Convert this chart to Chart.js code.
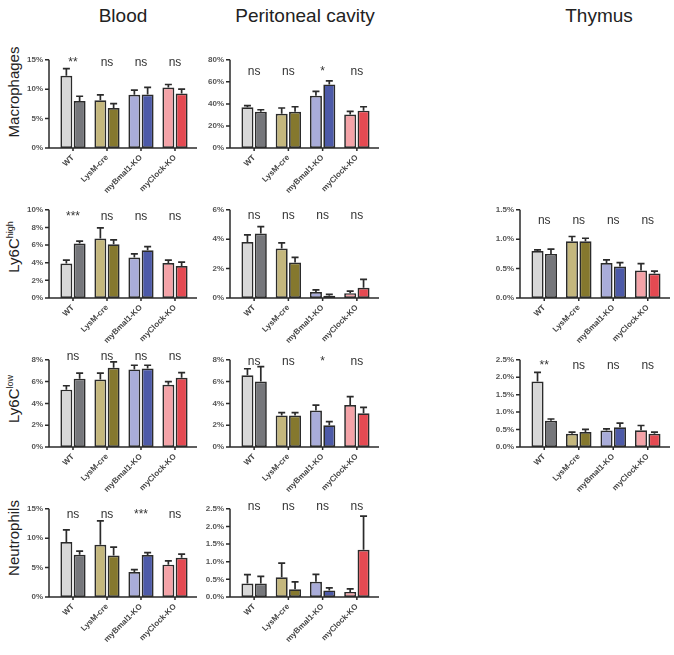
<!DOCTYPE html>
<html>
<head>
<meta charset="utf-8">
<script src="https://cdn.jsdelivr.net/npm/chart.js@4.4.0/dist/chart.umd.min.js"></script>
<style>
  body { margin: 0; background: #fff; }
  #page { position: relative; width: 674px; height: 655px; overflow: hidden; font-family: "Liberation Sans", Arial, sans-serif; color: #222; }
  #page canvas { position: absolute; }
  .col-title { position: absolute; font-size: 19px; white-space: nowrap; transform: translate(-50%, -50%); }
  .row-title { position: absolute; font-size: 15px; white-space: nowrap; transform: translate(-50%, -50%) rotate(-90deg); }
  .row-title sup { font-size: 9px; }
</style>
</head>
<body>
<div id="page">
  <div class="col-title" style="left:123px; top:16px;">Blood</div>
  <div class="col-title" style="left:305px; top:16px;">Peritoneal cavity</div>
  <div class="col-title" style="left:599px; top:16px;">Thymus</div>
  <div class="row-title" style="left:13px; top:92px;">Macrophages</div>
  <div class="row-title" style="left:13px; top:247px;">Ly6C<sup>high</sup></div>
  <div class="row-title" style="left:13px; top:399px;">Ly6C<sup>low</sup></div>
  <div class="row-title" style="left:13px; top:538px;">Neutrophils</div>
</div>
<script>
// --- data (first bar / second bar of each group, with SEM) ---
const groups = ['WT', 'LysM-cre', 'myBmal1-KO', 'myClock-KO'];

// Blood - macrophages
const bloodMacA = [12.3, 8.1, 9.05, 10.3];
const bloodMacB = [8.0, 6.8, 9.1, 9.25];
const bloodMacErrA = [1.2, 0.95, 0.8, 0.5];
const bloodMacErrB = [0.8, 0.75, 1.2, 0.75];
const bloodMacSig = ['**', 'ns', 'ns', 'ns'];
const bloodMacTicks = [0, 5, 10, 15];

// Peritoneal cavity - macrophages
const pcMacA = [36.9, 31.1, 47.3, 30.3];
const pcMacB = [32.8, 32.8, 57.7, 33.9];
const pcMacErrA = [1.6, 5.2, 4.1, 3.0];
const pcMacErrB = [1.9, 4.6, 3.2, 3.5];
const pcMacSig = ['ns', 'ns', '*', 'ns'];
const pcMacTicks = [0, 20, 40, 60, 80];

// Blood - Ly6C high
const bloodHiA = [3.9, 6.75, 4.6, 3.97];
const bloodHiB = [6.17, 6.1, 5.42, 3.63];
const bloodHiErrA = [0.4, 1.2, 0.4, 0.33];
const bloodHiErrB = [0.27, 0.5, 0.4, 0.44];
const bloodHiSig = ['***', 'ns', 'ns', 'ns'];
const bloodHiTicks = [0, 2, 4, 6, 8, 10];

// Peritoneal cavity - Ly6C high
const pcHiA = [3.81, 3.36, 0.41, 0.33];
const pcHiB = [4.39, 2.42, 0.16, 0.7];
const pcHiErrA = [0.49, 0.39, 0.14, 0.14];
const pcHiErrB = [0.47, 0.35, 0.09, 0.57];
const pcHiSig = ['ns', 'ns', 'ns', 'ns'];
const pcHiTicks = [0, 2, 4, 6];

// Thymus - Ly6C high
const thyHiA = [0.80, 0.966, 0.595, 0.468];
const thyHiB = [0.75, 0.966, 0.534, 0.417];
const thyHiErrA = [0.02, 0.08, 0.055, 0.117];
const thyHiErrB = [0.08, 0.05, 0.066, 0.04];
const thyHiSig = ['ns', 'ns', 'ns', 'ns'];
const thyHiTicks = [0, 0.5, 1.0, 1.5];

// Blood - Ly6C low
const bloodLoA = [5.26, 6.19, 7.12, 5.7];
const bloodLoB = [6.27, 7.26, 7.2, 6.36];
const bloodLoErrA = [0.36, 0.58, 0.38, 0.3];
const bloodLoErrB = [0.5, 0.55, 0.3, 0.46];
const bloodLoSig = ['ns', 'ns', 'ns', 'ns'];
const bloodLoTicks = [0, 2, 4, 6, 8];

// Peritoneal cavity - Ly6C low
const pcLoA = [6.58, 2.9, 3.34, 3.86];
const pcLoB = [6.0, 2.88, 2.0, 3.1];
const pcLoErrA = [0.6, 0.25, 0.5, 0.77];
const pcLoErrB = [1.37, 0.27, 0.33, 0.54];
const pcLoSig = ['ns', 'ns', '*', 'ns'];
const pcLoTicks = [0, 2, 4, 6, 8];

// Thymus - Ly6C low
const thyLoA = [1.88, 0.377, 0.47, 0.48];
const thyLoB = [0.753, 0.428, 0.565, 0.377];
const thyLoErrA = [0.26, 0.05, 0.05, 0.136];
const thyLoErrB = [0.05, 0.077, 0.12, 0.05];
const thyLoSig = ['**', 'ns', 'ns', 'ns'];
const thyLoTicks = [0, 0.5, 1.0, 1.5, 2.0, 2.5];

// Blood - neutrophils
const bloodNeuA = [9.35, 8.89, 4.26, 5.5];
const bloodNeuB = [7.19, 7.04, 7.14, 6.68];
const bloodNeuErrA = [2.05, 4.05, 0.41, 0.66];
const bloodNeuErrB = [0.6, 1.43, 0.41, 0.61];
const bloodNeuSig = ['ns', 'ns', '***', 'ns'];
const bloodNeuTicks = [0, 5, 10, 15];

// Peritoneal cavity - neutrophils
const pcNeuA = [0.383, 0.56, 0.434, 0.145];
const pcNeuB = [0.383, 0.22, 0.187, 1.34];
const pcNeuErrA = [0.25, 0.4, 0.21, 0.085];
const pcNeuErrB = [0.2, 0.21, 0.07, 0.95];
const pcNeuSig = ['ns', 'ns', 'ns', 'ns'];
const pcNeuTicks = [0, 0.5, 1.0, 1.5, 2.0, 2.5];

// --- styling / layout ---
const lightColors = ['#d8d8d8', '#c4b77d', '#a9acd9', '#f4a3a8'];
const darkColors = ['#76777b', '#85782e', '#4d5aa8', '#e44a52'];
const FONT = '"Liberation Sans", Arial, sans-serif';

// y-axis line x and x-axis end for each column, top/bottom of plot for each row
const cols = [{ axis: 49, end: 197 }, { axis: 230, end: 379 }, { axis: 520, end: 670 }];
const rows = [{ top: 50, bottom: 148 }, { top: 200, bottom: 298 }, { top: 350, bottom: 447 }, { top: 499, bottom: 597 }];

const panels = [
  { col: 0, row: 0, a: bloodMacA, b: bloodMacB, ea: bloodMacErrA, eb: bloodMacErrB, sig: bloodMacSig, ticks: bloodMacTicks, dec: 0, sigDy: 3 },
  { col: 1, row: 0, a: pcMacA, b: pcMacB, ea: pcMacErrA, eb: pcMacErrB, sig: pcMacSig, ticks: pcMacTicks, dec: 0, sigDy: 12 },
  { col: 0, row: 1, a: bloodHiA, b: bloodHiB, ea: bloodHiErrA, eb: bloodHiErrB, sig: bloodHiSig, ticks: bloodHiTicks, dec: 0, sigDy: 7 },
  { col: 1, row: 1, a: pcHiA, b: pcHiB, ea: pcHiErrA, eb: pcHiErrB, sig: pcHiSig, ticks: pcHiTicks, dec: 0, sigDy: 6 },
  { col: 2, row: 1, a: thyHiA, b: thyHiB, ea: thyHiErrA, eb: thyHiErrB, sig: thyHiSig, ticks: thyHiTicks, dec: 1, sigDy: 11 },
  { col: 0, row: 2, a: bloodLoA, b: bloodLoB, ea: bloodLoErrA, eb: bloodLoErrB, sig: bloodLoSig, ticks: bloodLoTicks, dec: 0, sigDy: -3 },
  { col: 1, row: 2, a: pcLoA, b: pcLoB, ea: pcLoErrA, eb: pcLoErrB, sig: pcLoSig, ticks: pcLoTicks, dec: 0, sigDy: 2 },
  { col: 2, row: 2, a: thyLoA, b: thyLoB, ea: thyLoErrA, eb: thyLoErrB, sig: thyLoSig, ticks: thyLoTicks, dec: 1, sigDy: 6 },
  { col: 0, row: 3, a: bloodNeuA, b: bloodNeuB, ea: bloodNeuErrA, eb: bloodNeuErrB, sig: bloodNeuSig, ticks: bloodNeuTicks, dec: 0, sigDy: 6 },
  { col: 1, row: 3, a: pcNeuA, b: pcNeuB, ea: pcNeuErrA, eb: pcNeuErrB, sig: pcNeuSig, ticks: pcNeuTicks, dec: 1, sigDy: -2 }
];

// Prism-style axes, error bars and significance marks
const panelDecor = {
  id: 'panelDecor',
  afterDatasetsDraw(chart, args, opts) {
    const { ctx, chartArea: area, scales: { x, y } } = chart;
    const ax = area.left - 7;
    ctx.save();
    ctx.strokeStyle = '#2b2b2b';
    ctx.lineWidth = 1.7;

    chart.data.datasets.forEach((ds, di) => {
      chart.getDatasetMeta(di).data.forEach((bar, i) => {
        const yt = y.getPixelForValue(ds.data[i] + ds.err[i]);
        ctx.beginPath();
        ctx.moveTo(bar.x, bar.y);
        ctx.lineTo(bar.x, yt);
        ctx.moveTo(bar.x - 3.5, yt);
        ctx.lineTo(bar.x + 3.5, yt);
        ctx.stroke();
      });
    });

    ctx.lineWidth = 1.5;
    ctx.beginPath();
    ctx.moveTo(ax, area.top);
    ctx.lineTo(ax, area.bottom);
    ctx.lineTo(area.right + 5, area.bottom);
    y.ticks.forEach(t => {
      const py = y.getPixelForValue(t.value);
      ctx.moveTo(ax - 4, py);
      ctx.lineTo(ax, py);
    });
    x.ticks.forEach((t, i) => {
      const px = x.getPixelForValue(i);
      ctx.moveTo(px, area.bottom);
      ctx.lineTo(px, area.bottom + 3);
    });
    ctx.stroke();

    ctx.fillStyle = '#333';
    ctx.font = '12px ' + FONT;
    ctx.textAlign = 'center';
    ctx.textBaseline = 'middle';
    opts.sig.forEach((s, i) => ctx.fillText(s, x.getPixelForValue(i), area.top + opts.sigDy));
    ctx.restore();
  }
};

const page = document.getElementById('page');

function makePanel(p) {
  const c = cols[p.col], r = rows[p.row];
  const left = c.axis - 45;
  const top = r.top - 8;
  const w = Math.min(674, c.end + 4) - left;
  const h = r.bottom - r.top + 8 + 48;
  const canvas = document.createElement('canvas');
  canvas.width = w;
  canvas.height = h;
  canvas.style.left = left + 'px';
  canvas.style.top = top + 'px';
  page.appendChild(canvas);

  const barStyle = { borderColor: '#2b2b2b', borderWidth: 1.7, borderSkipped: false, categoryPercentage: 0.78, barPercentage: 0.9 };

  new Chart(canvas, {
    type: 'bar',
    data: {
      labels: groups,
      datasets: [
        { data: p.a, err: p.ea, backgroundColor: lightColors, ...barStyle },
        { data: p.b, err: p.eb, backgroundColor: darkColors, ...barStyle }
      ]
    },
    options: {
      responsive: false,
      animation: false,
      layout: { padding: { top: 8, left: 0, bottom: 0, right: w - (c.end - 5 - left) } },
      plugins: {
        legend: { display: false },
        tooltip: { enabled: false },
        panelDecor: { sig: p.sig, sigDy: p.sigDy }
      },
      scales: {
        x: {
          grid: { display: false, drawTicks: false },
          border: { display: false },
          ticks: {
            autoSkip: false, minRotation: 45, maxRotation: 45, padding: 5,
            color: '#444', font: { family: FONT, size: 8, weight: 'bold' }
          },
          afterFit: s => { s.height = 48; }
        },
        y: {
          min: p.ticks[0],
          max: p.ticks[p.ticks.length - 1],
          grid: { display: false, drawTicks: false },
          border: { display: false },
          ticks: {
            stepSize: p.ticks[1] - p.ticks[0],
            padding: 13,
            color: '#555',
            font: { family: FONT, size: 8, weight: 'bold' },
            callback: v => v.toFixed(p.dec) + '%'
          },
          afterFit: s => { s.width = 52; }
        }
      }
    },
    plugins: [panelDecor]
  });
}

panels.forEach(makePanel);
</script>
</body>
</html>
